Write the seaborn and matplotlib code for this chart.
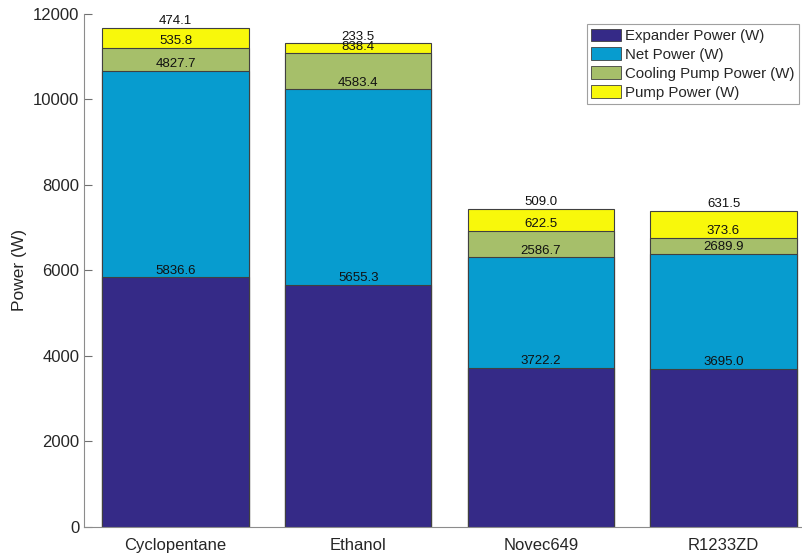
import numpy as np
import seaborn as sns
import matplotlib.pyplot as plt
from matplotlib.patches import Patch

### Data
fluids = ["Cyclopentane", "Ethanol", "Novec649", "R1233ZD"]
expander = [5836.6, 5655.3, 3722.2, 3695.0]
net = [4827.7, 4583.4, 2586.7, 2689.9]
cooling = [535.8, 838.4, 622.5, 373.6]
pump = [474.1, 233.5, 509.0, 631.5]

names = ["Expander Power (W)", "Net Power (W)", "Cooling Pump Power (W)", "Pump Power (W)"]
colors = ["#352a87", "#079ccf", "#a6bf6a", "#f8f80b"]

sns.set_style("white")
plt.rcParams["font.family"] = ["Liberation Sans", "DejaVu Sans"]

series = [expander, net, cooling, pump]
cum = np.cumsum(np.array(series), axis=0)

fig = plt.figure(figsize=(8.02, 5.54), dpi=100)
ax = fig.add_axes([0.105, 0.049, 0.911, 0.926])

# stacked look: draw cumulative totals from the top layer down
for i in reversed(range(4)):
    sns.barplot(x=fluids, y=cum[i], color=colors[i], saturation=1, width=0.8,
                edgecolor="#404040", linewidth=0.8, ax=ax)

for j in range(len(fluids)):
    for i in range(4):
        ax.text(j, cum[i][j] + 15, f"{series[i][j]:.1f}", ha="center", va="bottom",
                fontsize=9.5, color="#111111")

ax.set_xlim(-0.5, 3.5)
ax.set_ylim(0, 12000)
ax.set_yticks(range(0, 12001, 2000))
ax.set_ylabel("Power (W)", fontsize=12.5, color="#262626")
ax.tick_params(direction="in", length=6, color="#707070", labelsize=12, labelcolor="#262626",
               bottom=True, left=True)
ax.tick_params(axis="x", pad=8)
for s in ["top", "right"]:
    ax.spines[s].set_visible(False)
for s in ["left", "bottom"]:
    ax.spines[s].set_color("#8c8c8c")
    ax.spines[s].set_linewidth(0.8)

handles = [Patch(facecolor=c, edgecolor="#404040", linewidth=0.6) for c in colors]
leg = fig.legend(handles, names, loc="upper right", bbox_to_anchor=(799 / 802, 1 - 24 / 554),
                 borderaxespad=0, fancybox=False, edgecolor="#a0a0a0", framealpha=1,
                 fontsize=10.8, handlelength=2.0, handleheight=0.9, labelspacing=0.3,
                 handletextpad=0.25, borderpad=0.3)
leg.get_frame().set_linewidth(0.8)

fig.savefig("out.png", dpi=100)
